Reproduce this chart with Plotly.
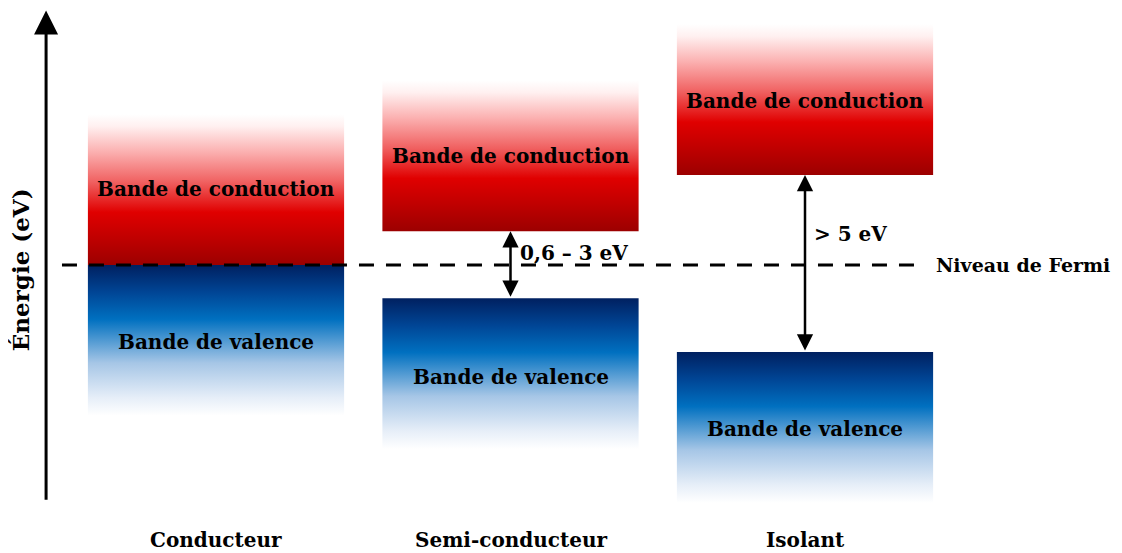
import plotly.graph_objects as go

# ---------------- data ----------------
categories = ["Conducteur", "Semi-conducteur", "Isolant"]
cat_pos = [0, 1, 2]
band_halfwidth = 0.435
band_height = 4.5
conduction_bottom = [0.0, 1.01, 2.69]   # relative to Fermi level (arbitrary energy units)
valence_top = [0.0, -0.99, -2.6]
gap_labels = [None, "0,6 – 3 eV", "> 5 eV"]
gap_label_y = [None, 0.36, 0.93]
band_label_cond = "Bande de conduction"
band_label_val = "Bande de valence"
cond_label_y = [2.27, 3.24, 4.9]
val_label_y = [-2.3, -3.34, -4.9]
fermi_level = 0.0
fermi_label = "Niveau de Fermi"
axis_label = "Énergie (eV)"

# colour gradients (0 = bottom, 1 = top)
cond_scale = [[0.0, "#9c0000"], [0.18, "#c00000"], [0.35, "#e00000"],
              [0.55, "#f06060"], [0.75, "#fbb0b0"], [0.92, "#fff0f0"], [1.0, "#ffffff"]]
val_scale = [[0.0, "#ffffff"], [0.12, "#e6eef8"], [0.35, "#a6c6e6"],
             [0.64, "#0070c0"], [0.82, "#004595"], [1.0, "#002060"]]

FONT = "DejaVu Serif"
FS = 20

# page body has an 8px margin: the figure is drawn 8px right/down,
# so the figure area maps to reference pixels 8..1122 / 8..553
X_RANGE = [-0.7063, 3.0764]
Y_RANGE = [-8.597, 7.672]

fig = go.Figure()

for i, xc in enumerate(cat_pos):
    x0, x1 = xc - band_halfwidth, xc + band_halfwidth
    # conduction band
    yb, yt = conduction_bottom[i], conduction_bottom[i] + band_height
    fig.add_trace(go.Scatter(
        x=[x0, x1, x1, x0, x0], y=[yb, yb, yt, yt, yb], mode="lines",
        line=dict(width=0), fill="toself",
        fillgradient=dict(type="vertical", colorscale=cond_scale),
        hoverinfo="skip", showlegend=False))
    # valence band
    yt2, yb2 = valence_top[i], valence_top[i] - band_height
    fig.add_trace(go.Scatter(
        x=[x0, x1, x1, x0, x0], y=[yb2, yb2, yt2, yt2, yb2], mode="lines",
        line=dict(width=0), fill="toself",
        fillgradient=dict(type="vertical", colorscale=val_scale),
        hoverinfo="skip", showlegend=False))
    fig.add_annotation(x=xc, y=cond_label_y[i], text=band_label_cond, showarrow=False,
                       font=dict(family=FONT, size=FS, color="black", weight="bold"))
    fig.add_annotation(x=xc, y=val_label_y[i], text=band_label_val, showarrow=False,
                       font=dict(family=FONT, size=FS, color="black", weight="bold"))
    fig.add_annotation(x=xc, y=-8.2, text=categories[i], showarrow=False,
                       font=dict(family=FONT, size=FS, color="black", weight="bold"))

# Fermi level
fig.add_shape(type="line", x0=-0.523, x1=2.397, y0=fermi_level, y1=fermi_level,
              line=dict(color="black", width=3, dash="15px,12px"), layer="above")
fig.add_annotation(x=2.438, y=fermi_level, text=fermi_label, showarrow=False, xanchor="left",
                   font=dict(family=FONT, size=19, color="black", weight="bold"))

# gap arrows
for i, xc in enumerate(cat_pos):
    if gap_labels[i] is None:
        continue
    fig.add_annotation(x=xc, y=conduction_bottom[i], ax=xc, ay=valence_top[i],
                       xref="x", yref="y", axref="x", ayref="y", text="",
                       showarrow=True, arrowhead=2, arrowside="end+start",
                       arrowsize=1.3, arrowwidth=2.5, arrowcolor="black")
    fig.add_annotation(x=xc + 0.025, y=gap_label_y[i], text=gap_labels[i], showarrow=False,
                       xanchor="left",
                       font=dict(family=FONT, size=FS, color="black", weight="bold"))

# energy axis arrow
fig.add_annotation(x=-0.577, y=7.6, ax=-0.577, ay=-7.05, xref="x", yref="y",
                   axref="x", ayref="y", text="", showarrow=True, arrowhead=2,
                   arrowsize=1.6, arrowwidth=3, arrowcolor="black")
fig.add_annotation(x=-0.665, y=-0.15, text=axis_label, showarrow=False, textangle=-90,
                   font=dict(family=FONT, size=23, color="black", weight="bold"))

fig.update_layout(
    width=1114, height=545, margin=dict(l=0, r=0, t=0, b=0),
    paper_bgcolor="white", plot_bgcolor="white",
    xaxis=dict(range=X_RANGE, visible=False, fixedrange=True),
    yaxis=dict(range=Y_RANGE, visible=False, fixedrange=True),
    showlegend=False,
)

fig.write_html("out.html")
